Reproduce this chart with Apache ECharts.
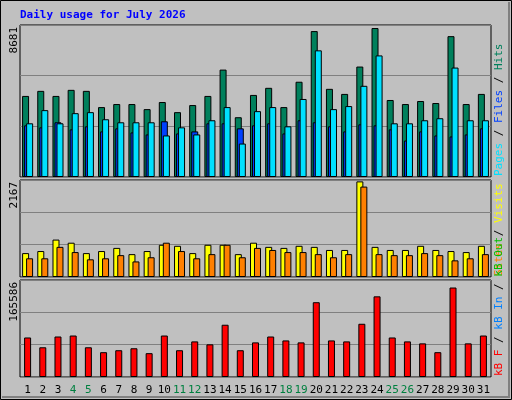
<!DOCTYPE html>
<html><head><meta charset="utf-8">
<script src="https://cdn.jsdelivr.net/npm/echarts@6/dist/echarts.min.js"></script>
<style>html,body{margin:0;padding:0;background:#C0C0C0}#c{width:512px;height:400px}</style>
</head><body><div id="c"></div>
<script>
const days = ['1','2','3','4','5','6','7','8','9','10','11','12','13','14','15','16','17','18','19','20','21','22','23','24','25','26','27','28','29','30','31'];
const weekend = ['4','5','11','12','18','19','25','26'];
const hits = [4630,4919,4630,4977,4919,3993,4167,4167,3877,4282,3704,4109,4630,6134,3414,4687,5093,3993,5440,8333,5035,4745,6308,8507,4398,4167,4340,4225,8044,4167,4745];
const files = [3067,3819,3067,3646,3704,3299,3125,3125,3125,2373,2836,2431,3241,3993,1910,3762,3993,2894,4456,7234,3877,4051,5208,6944,3067,3067,3241,3357,6250,3241,3241];
const pages = [2951,2836,3125,2720,2894,2604,2778,2546,2431,3183,2488,2604,3067,3067,2778,2951,3067,2488,3241,3125,2894,2604,3009,2951,2720,2083,2604,2373,2315,2431,2778];
const visits = [534,580,836,766,534,580,650,511,580,720,697,534,720,720,511,766,673,650,697,673,604,604,2136,673,604,604,697,604,580,557,697];
const sites = [418,418,673,557,395,418,488,348,441,766,580,418,511,720,441,650,604,557,557,511,441,511,2020,511,488,488,534,488,372,418,511];
const kbF = [67458,50733,69130,70803,50733,42370,45715,49060,40698,70803,45715,60768,55750,89200,45715,59095,69130,62440,59095,127668,62440,60768,90873,137703,67458,60768,57423,42370,152755,57423,70803];
const maxTop = 8681, maxMid = 2167, maxBot = 165586;
const title = 'Daily usage for July 2026';

const F = 'DejaVu Sans Mono, monospace';
const grids = [{top:25,height:152},{top:180,height:97},{top:280,height:97}].map(g=>({left:20,right:21,top:g.top,height:g.height,show:true,borderColor:'#000',borderWidth:1,backgroundColor:'#C0C0C0'}));
const maxes=[maxTop,maxMid,maxBot];
const xAxis = [0,1,2].map(i=>({type:'category',gridIndex:i,data:days,axisLine:{show:false},axisTick:{show:false},
  axisLabel:{show:i===2,margin:8,fontFamily:F,fontSize:11,interval:0,color:(v)=>weekend.includes(v)?'#008040':'#000'}}));
const yAxis = maxes.map((m,i)=>({type:'value',gridIndex:i,min:0,max:m,interval:m/3,axisLabel:{show:false},axisLine:{show:false},axisTick:{show:false},splitLine:{lineStyle:{color:'#808080',width:1}}}));
const bs={borderColor:'#000',borderWidth:1};
const mk=(name,data,i,color,gap)=>({type:'bar',name,data,xAxisIndex:i,yAxisIndex:i,barWidth:7,barGap:gap,itemStyle:Object.assign({color},bs),silent:true,animation:false});
const series=[
 mk('Hits',hits,0,'#00805C','-71%'),
 mk('Pages',pages,0,'#0040FF','-71%'),
 mk('Files',files,0,'#00E0FF','-71%'),
 mk('Visits',visits,1,'#FFFF00','-43%'),
 mk('Sites',sites,1,'#FF8000','-43%'),
 mk('kB F',kbF,2,'#FF0000','0%')
];
const rot=Math.PI/2;
const lbl=(txt,y)=>({type:'text',x:14,y,rotation:rot,style:{text:txt,fontFamily:F,fontSize:11,fill:'#000',align:'right',verticalAlign:'middle'}});
const rlbl=(parts,y)=>({type:'text',x:499,y,rotation:rot,style:{text:parts.map((p,k)=>'{s'+k+'|'+p[0]+'}').join(''),rich:Object.fromEntries(parts.map((p,k)=>['s'+k,{fill:p[1],fontFamily:F,fontSize:11}])),align:'left',verticalAlign:'middle'}});
const chart=echarts.init(document.getElementById('c'),null,{renderer:'canvas'});
chart.setOption({backgroundColor:'#C0C0C0',animation:false,grid:grids,xAxis,yAxis,series,
 graphic:[
  {type:'rect',shape:{x:0.5,y:0.5,width:511,height:399},style:{fill:'none',stroke:'#000',lineWidth:1}},
  {type:'polyline',shape:{points:[[2,397],[509,397],[509,2]]},style:{stroke:'#808080',lineWidth:2,fill:'none'}},
  {type:'text',x:20,y:15,style:{text:title,fontFamily:F,fontWeight:'bold',fontSize:11,fill:'#0000FF',verticalAlign:'middle'}},
  lbl(String(maxTop),27),lbl(String(maxMid),182),lbl(String(maxBot),282),
  rlbl([['Pages','#00E0FF'],[' / ','#000'],['Files','#0040FF'],[' / ','#000'],['Hits','#00805C']],176),
  rlbl([['Sites','#FF8000'],[' / ','#000'],['Visits','#FFFF00']],276),
  rlbl([['kB F','#FF0000'],[' / ','#000'],['kB In','#0080FF'],[' / ','#000'],['kB Out','#00C000']],376)
 ]});
</script></body></html>
